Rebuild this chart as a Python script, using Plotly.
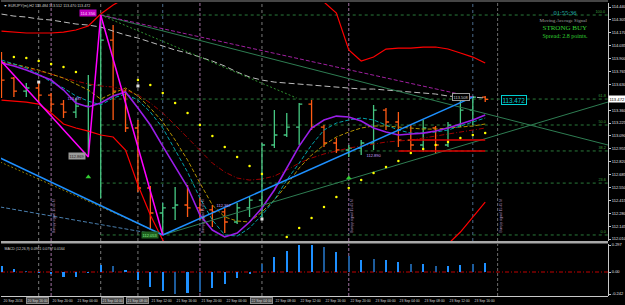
import plotly.graph_objects as go

# ---------------- data ----------------
bars = list(range(40))
open_ = [113.780,113.696,113.560,113.592,113.518,113.424,113.340,113.403,113.623,114.094,
         113.560,113.173,112.545,112.283,112.336,112.367,112.336,112.315,112.294,112.189,
         112.336,112.419,112.995,113.100,113.183,113.424,113.183,113.016,112.943,112.963,
         113.016,113.361,113.236,113.047,112.995,113.173,112.995,113.204,113.361,113.497]
high = [113.969,113.707,113.644,113.644,113.539,113.466,113.487,113.728,114.356,114.251,
        113.581,113.257,112.566,112.388,112.555,112.576,112.450,112.367,112.336,112.388,
        112.450,113.016,113.361,113.330,113.435,113.466,113.204,113.068,112.995,113.047,
        113.414,113.382,113.340,113.204,113.257,113.194,113.236,113.466,113.508,113.508]
low = [113.487,113.497,113.497,113.445,113.340,113.278,113.278,112.869,112.440,113.257,
       113.131,112.503,112.105,112.053,112.210,112.241,112.210,112.136,112.073,112.168,
       112.241,112.210,112.963,113.079,112.995,113.152,112.974,112.911,112.869,112.890,
       112.943,113.152,112.974,112.943,112.922,112.911,112.974,113.183,113.204,113.445]
close = [113.675,113.560,113.592,113.518,113.424,113.340,113.403,113.623,114.094,113.560,
         113.173,112.545,112.283,112.336,112.367,112.336,112.315,112.294,112.189,112.336,
         112.419,112.995,113.100,113.183,113.424,113.183,113.016,112.943,112.963,113.016,
         113.361,113.236,113.047,112.995,113.173,112.995,113.204,113.361,113.497,113.472]

bb_upper = [114.188,114.178,114.168,114.168,114.168,114.178,114.199,114.241,114.366,114.461,
            114.534,114.639,114.743,114.827,114.890,114.932,114.953,114.953,114.932,114.911,
            114.879,114.827,114.775,114.701,114.618,114.555,114.492,114.377,113.990,113.874,
            113.916,114.000,114.010,114.010,114.021,114.021,114.000,113.958,113.916,113.853]
bb_lower = [113.466,113.455,113.445,113.424,113.330,113.215,113.173,113.141,113.100,113.079,
            112.943,112.576,112.262,112.000,111.770,111.582,111.424,111.320,111.267,111.246,
            111.246,111.267,111.320,111.372,111.424,111.477,111.529,111.582,111.634,111.665,
            111.686,111.707,111.738,111.770,111.833,111.896,111.958,112.084,112.241,112.398]
ma_violet = [113.853,113.822,113.780,113.728,113.675,113.571,113.435,113.393,113.435,113.508,
             113.550,113.382,113.204,112.984,112.765,112.555,112.262,112.105,112.032,112.073,
             112.189,112.336,112.524,112.754,112.984,113.173,113.257,113.298,113.288,113.246,
             113.173,113.131,113.100,113.110,113.120,113.141,113.173,113.215,113.257,113.309]
ma_cyan = [113.885,113.843,113.801,113.738,113.654,113.592,113.508,113.455,113.414,113.487,
           113.529,113.466,113.340,113.173,112.943,112.712,112.440,112.210,112.053,112.042,
           112.126,112.262,112.419,112.628,112.806,112.995,113.152,113.225,113.257,113.278,
           113.257,113.204,113.152,113.120,113.120,113.131,113.152,113.194,113.236,113.278]
ma_olive = [113.864,113.843,113.812,113.780,113.738,113.696,113.634,113.571,113.476,113.539,
            113.592,113.508,113.382,113.236,113.047,112.838,112.597,112.367,112.241,112.199,
            112.189,112.294,112.419,112.576,112.754,112.890,112.995,113.079,113.131,113.173,
            113.194,113.194,113.183,113.173,113.162,113.162,113.173,113.183,113.194,113.215]
ma_darkred = [113.853,113.832,113.801,113.770,113.738,113.696,113.665,113.634,113.613,113.602,
              113.571,113.518,113.435,113.330,113.204,113.068,112.943,112.806,112.712,112.649,
              112.628,112.639,112.670,112.733,112.806,112.859,112.901,112.932,112.963,112.984,
              113.005,113.026,113.037,113.047,113.068,113.089,113.110,113.131,113.152,113.173]
ma_grey = [114.366,114.345,114.335,114.314,114.304,114.283,114.262,114.251,114.230,114.188,
           114.147,114.115,114.073,114.031,113.990,113.958,113.916,113.874,113.822,113.759,
           113.707,113.675,113.654,113.644,113.634,113.623,113.613,113.602,113.592,113.581,
           113.581,113.571,113.560,113.550,113.539,113.529,113.508,113.497,113.497,113.487]
sar = [None,113.916,113.906,113.874,113.843,113.812,113.759,None,None,None,
       None,113.675,113.623,113.539,113.435,113.330,113.204,113.089,112.974,112.869,
       112.775,112.691,None,112.032,112.126,112.231,112.346,112.450,112.545,112.628,
       112.702,112.765,112.827,112.911,112.953,112.995,113.026,113.068,113.100,113.120]
macd_hist = [0.066,0.03,0.01,-0.01,-0.02,-0.05,-0.05,-0.01,0.08,0.07,
             0.02,-0.085,-0.165,-0.21,-0.24,-0.23,-0.22,-0.18,-0.13,-0.07,
             -0.02,0.09,0.17,0.23,0.30,0.30,0.27,0.22,0.18,0.135,
             0.145,0.135,0.11,0.09,0.088,0.07,0.07,0.08,0.09,0.10]

# trend lines: (bar, price) end points
blue_down = ([-0.1, 13], [112.859, 112.053])
blue_up = ([13, 38], [112.053, 113.497])
olive_dotted = ([-0.1, 12.8], [112.817, 112.070])
steel_dashed = ([-0.1, 12.8], [112.346, 112.053])
green_up = ([13, 48.9], [112.053, 113.445])
green_down = ([8, 48.9], [114.356, 112.995])
purple_dashed = ([8, 38], [114.356, 113.497])
green_dotted = ([8, 23.8], [114.356, 113.487])
zigzag = ([-0.1, 7, 8, 13], [113.885, 112.869, 114.356, 112.053])
red_lines = [([33, 39], [113.047, 113.047]), ([32, 39], [112.932, 112.932])]
fib_low, fib_high = 112.053, 114.356
fib_levels = [0.0, 23.6, 38.2, 50.0, 61.8, 100.0]
buy_arrows = ([7, 28], [112.660, 112.649])
fractals = ([3, 11, 21], [113.654, 113.613, 112.220])

price_ticks = [114.440, 114.305, 114.170, 114.035, 113.900, 113.765, 113.630, 113.360,
               113.225, 113.090, 112.955, 112.820, 112.685, 112.550, 112.415, 112.280,
               112.145, 112.010]
last_price = 113.472
macd_ticks = [0.297, 0.0, -0.242]
macd_ticktext = ["0.297", "0.00", "-0.242"]

time_labels = [(0, "20 Sep 2016"), (2, "20 Sep 16:00"), (4, "20 Sep 20:00"), (6, "21 Sep 00:00"),
               (8, "21 Sep 04:00"), (10, "21 Sep 08:00"), (12, "21 Sep 12:00"), (14, "21 Sep 16:00"),
               (16, "21 Sep 20:00"), (18, "22 Sep 00:00"), (20, "22 Sep 04:00"), (22, "22 Sep 08:00"),
               (24, "22 Sep 12:00"), (26, "22 Sep 16:00"), (28, "22 Sep 20:00"), (30, "23 Sep 00:00"),
               (32, "23 Sep 04:00"), (34, "23 Sep 08:00"), (36, "23 Sep 12:00"), (38, "23 Sep 16:00")]
boxed_labels = {2, 8, 10, 20}

vlines_grey = [3, 8, 11, 21]
vlines_pink = [4, 16, 28]
vlines_blue = [13, 38]
vline_signal = 40
signal_text_bars = [4, 16, 28, 40]

# ---------------- layout helpers ----------------
W, H = 625, 305
ML, MR, MT, MB = 1, 17, 1, 0
def pxx(px):
    return (px - ML) / (W - ML - MR)
def pxy(py):
    return (H - MB - py) / (H - MT - MB)

main_dom = [pxy(241), pxy(3)]
macd_dom = [pxy(296), pxy(244)]
XR = [-0.04, 48.9]
SANS = "Liberation Sans"
SERIF = "Liberation Serif"

fig = go.Figure()

def line(x, y, color, width=1, dash="solid", xa="x", ya="y"):
    fig.add_trace(go.Scatter(x=x, y=y, mode="lines", line=dict(color=color, width=width, dash=dash),
                             xaxis=xa, yaxis=ya, hoverinfo="skip", showlegend=False, connectgaps=False))

# moving averages and bands
line(bars, ma_grey, "#bdbdbd", 1, "6px,3px")
line(bars, bb_upper, "#ff0000", 1.2)
line(bars, bb_lower, "#ff0000", 1.2)
line(bars, ma_darkred, "#a00000", 1, "5px,2px,1px,2px")
line(bars, ma_olive, "#b09000", 1, "4px,2px")
line(bars, ma_cyan, "#00a0a8", 1, "4px,2px")
line(bars, ma_violet, "#9a1ee8", 1.6)

# trend lines
line(*green_down, "#2e7d52", 1)
line(*purple_dashed, "#a020a0", 1, "4px,2px")
line(*green_dotted, "#2f8f2f", 1, "2px,2px")
line(*olive_dotted, "#8a7a00", 1, "2px,2px")
line(*steel_dashed, "#4a7fae", 1, "4px,2px")
line(*green_up, "#2e7d52", 1)
line(*blue_down, "#1e90ff", 1.5)
line(*blue_up, "#1e90ff", 1.5)
line(*zigzag, "#ff00ff", 1.5)
for rx, ry in red_lines:
    line(rx, ry, "#e00000", 1.5)

# price bars
fig.add_trace(go.Ohlc(x=bars, open=open_, high=high, low=low, close=close, tickwidth=0.25,
                      increasing=dict(line=dict(color="#46c882", width=1.3)),
                      decreasing=dict(line=dict(color="#ff5a14", width=1.3)),
                      xaxis="x", yaxis="y", hoverinfo="skip", showlegend=False))

# parabolic SAR, arrows, fractals
fig.add_trace(go.Scatter(x=bars, y=sar, mode="markers", marker=dict(color="#ffff00", size=2.5),
                         xaxis="x", yaxis="y", hoverinfo="skip", showlegend=False))
fig.add_trace(go.Scatter(x=buy_arrows[0], y=buy_arrows[1], mode="markers",
                         marker=dict(color="#32cd32", size=5, symbol="triangle-up"),
                         xaxis="x", yaxis="y", hoverinfo="skip", showlegend=False))
fig.add_trace(go.Scatter(x=fractals[0], y=fractals[1], mode="markers",
                         marker=dict(color="#e0e0e0", size=3, symbol="square"),
                         xaxis="x", yaxis="y", hoverinfo="skip", showlegend=False))

# MACD histogram
dark_idx = {2, 9, 14, 16, 21, 26, 28, 30, 33, 35, 38}
macd_colors = ["#1d5c9c" if i in dark_idx else "#1e90ff" for i in bars]
fig.add_trace(go.Bar(x=bars, y=macd_hist, width=0.17, marker=dict(color=macd_colors, line=dict(width=0)),
                     xaxis="x2", yaxis="y2", hoverinfo="skip", showlegend=False))

shapes = []
# fib levels
fib_prices = [fib_low + (fib_high - fib_low) * lv / 100.0 for lv in fib_levels]
for p in fib_prices:
    shapes.append(dict(type="line", xref="x", yref="y", x0=8, x1=XR[1], y0=p, y1=p,
                       line=dict(color="#2a7a3a", width=1, dash="dot"), layer="below"))
# vertical separators
for b in vlines_grey:
    for ya in ("y domain", "y2 domain"):
        shapes.append(dict(type="line", xref="x", yref=ya, x0=b, x1=b, y0=0, y1=1,
                           line=dict(color="#7a7a7a", width=1, dash="dot"), layer="below"))
for b in vlines_pink:
    for ya in ("y domain", "y2 domain"):
        shapes.append(dict(type="line", xref="x", yref=ya, x0=b, x1=b, y0=0, y1=1,
                           line=dict(color="#a070a0", width=1, dash="3px,2px"), layer="below"))
for b in vlines_blue:
    shapes.append(dict(type="line", xref="x", yref="y domain", x0=b, x1=b, y0=0, y1=1,
                       line=dict(color="#4a6a8a", width=1, dash="dot"), layer="below"))
for ya in ("y domain", "y2 domain"):
    shapes.append(dict(type="line", xref="x", yref=ya, x0=vline_signal, x1=vline_signal, y0=0, y1=1,
                       line=dict(color="#6a6a6a", width=1, dash="3px,2px"), layer="below"))
# MACD zero line
shapes.append(dict(type="line", xref="x2 domain", yref="y2", x0=0, x1=1, y0=0, y1=0,
                   line=dict(color="#c00000", width=1, dash="4px,2px,1px,2px"), layer="below"))
# frame
shapes.append(dict(type="line", xref="paper", yref="paper", x0=0, x1=1, y0=pxy(1), y1=pxy(1),
                   line=dict(color="#8a8a8a", width=1)))
shapes.append(dict(type="rect", xref="paper", yref="paper", x0=0, x1=1, y0=pxy(243.5), y1=pxy(241),
                   line=dict(width=0), fillcolor="#a8a8a8"))
shapes.append(dict(type="line", xref="paper", yref="paper", x0=0, x1=1, y0=pxy(296.5), y1=pxy(296.5),
                   line=dict(color="#c8c8c8", width=1)))

ann = []
def text(x, y, s, size, color, xref="x", yref="y", xanchor="center", yanchor="middle",
         bg=None, border=None, family=SANS, angle=0):
    d = dict(x=x, y=y, xref=xref, yref=yref, text=s, showarrow=False, xanchor=xanchor, yanchor=yanchor,
             font=dict(size=size, color=color, family=family), borderpad=0.5, textangle=angle)
    if bg:
        d["bgcolor"] = bg
    if border:
        d["bordercolor"] = border
        d["borderwidth"] = 1
    ann.append(d)

# header
text(pxx(2), pxy(5), "▼ EURJPY(m),H2 113.484 113.512 113.470 113.472", 3.7, "#d0d0d0",
     xref="paper", yref="paper", xanchor="left")
text(pxx(3), pxy(248), "MACD (12,26,9) 0.0961 0.0797 0.0164", 3.5, "#d0d0d0",
     xref="paper", yref="paper", xanchor="left")
# signal panel
text(pxx(565), pxy(12.5), "01:55:36", 6.5, "#20b2aa", xref="paper", yref="paper", family=SERIF)
text(pxx(563), pxy(20), "Moving Average Signal", 5.0, "#a0a0a0", xref="paper", yref="paper", family=SERIF)
text(pxx(565), pxy(27.8), "STRONG BUY", 7.0, "#32cd32", xref="paper", yref="paper", family=SERIF)
text(pxx(565), pxy(35.8), "Spread: 2.8 points.", 6.0, "#32cd32", xref="paper", yref="paper", family=SERIF)

# price labels on the chart
text(7.0, 114.382, "114.356", 4.2, "#ffd0ff", bg="#c000c0")
text(5.9, 113.487, "113.487", 4.0, "#c080ff")
text(6.05, 112.885, "112.869", 4.0, "#202020", bg="#9a9a9a")
text(11.98, 112.053, "112.053", 4.0, "#90ee90", bg="#1e5e1e")
text(17.9, 112.367, "112.367", 4.0, "#d0a0ff")
text(30.0, 112.890, "112.890", 4.0, "#d0a0ff")
text(37.05, 113.500, "113.508", 4.0, "#d0d0d0", border="#9a9a9a", bg="#000000")
text(41.3, 113.466, "113.472", 6.3, "#00ced1", border="#00ced1", bg="#000000")
# current price on the axis
text(1.0, last_price, "113.472", 4.2, "#000000", xref="paper", yref="y", xanchor="left", bg="#ffffff")

# fib level labels
for lv, p in zip(fib_levels, fib_prices):
    text(pxx(607), p, f"{lv:.1f}", 3.8, "#3c9c3c", xref="paper", yref="y", xanchor="right", yanchor="bottom")

# rotated signal texts
for b in signal_text_bars:
    text(b + 0.2, pxy(216), "Bumpy signal 15:45 M", 3.4, "#b090c0", xref="x", yref="paper", angle=-90)

# time labels
for b, s in time_labels:
    if b in boxed_labels:
        text(b, pxy(300.5), s, 3.4, "#d8d8d8", xref="x2", yref="paper", xanchor="left",
             bg="#4a4a4a", border="#8a8a8a")
    else:
        text(b, pxy(300.5), s, 3.4, "#d8d8d8", xref="x2", yref="paper", xanchor="left")

axis_common = dict(showgrid=False, zeroline=False)
fig.update_layout(
    width=W, height=H, margin=dict(l=ML, r=MR, t=MT, b=MB, autoexpand=False),
    paper_bgcolor="#000000", plot_bgcolor="#000000", showlegend=False, bargap=0,
    xaxis=dict(domain=[0, 1], range=XR, anchor="y", showticklabels=False, showline=False,
               rangeslider=dict(visible=False), **axis_common),
    xaxis2=dict(domain=[0, 1], range=XR, anchor="y2", matches="x", showticklabels=False,
                showline=False, **axis_common),
    yaxis=dict(domain=main_dom, range=[111.990, 114.482], side="right", anchor="x",
               tickvals=price_ticks, ticktext=[f"{v:.3f}" for v in price_ticks],
               tickfont=dict(size=4, color="#e0e0e0", family=SANS), ticks="outside", ticklen=2,
               tickcolor="#c8c8c8", showline=True, linecolor="#c8c8c8", linewidth=1,
               automargin=False, **axis_common),
    yaxis2=dict(domain=macd_dom, range=[-0.264, 0.308], side="right", anchor="x2",
                tickvals=macd_ticks, ticktext=macd_ticktext,
                tickfont=dict(size=4, color="#e0e0e0", family=SANS), ticks="outside", ticklen=2,
                tickcolor="#c8c8c8", showline=True, linecolor="#c8c8c8", linewidth=1,
                automargin=False, **axis_common),
    shapes=shapes, annotations=ann,
)

fig.write_html("out.html")
